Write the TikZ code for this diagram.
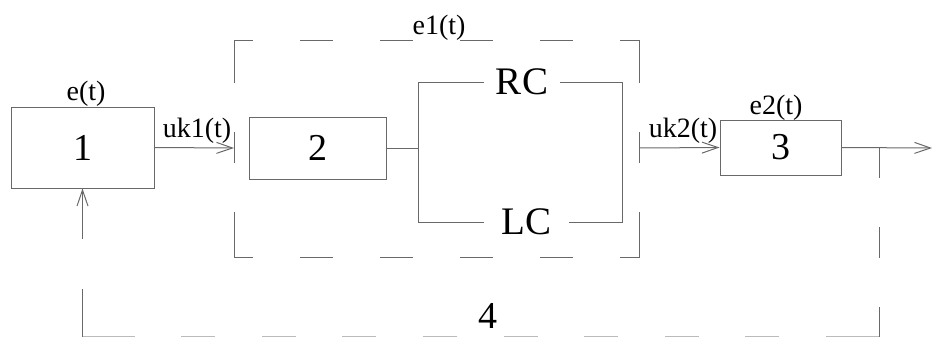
\documentclass[tikz,border=0pt]{standalone}
\usepackage{fontspec}
\setmainfont{Liberation Serif}
\usetikzlibrary{arrows.meta}
\definecolor{ln}{RGB}{105,105,105}
\tikzset{
  wire/.style={draw=ln, line width=0.5pt},
  arr/.style={wire, -{Straight Barb[length=8pt,width=5.5pt]}},
  blk/.style={draw=ln, line width=0.5pt, rectangle, inner sep=0pt, font=\fontsize{19}{19}\selectfont},
  lbl/.style={inner sep=0pt, font=\fontsize{14}{14}\selectfont},
  brn/.style={inner sep=0pt, font=\fontsize{19.5}{19.5}\selectfont},
  hside/.style={wire, dash pattern=on 9.5pt off 23.5pt on 16.5pt off 23.5pt on 16.5pt off 23.5pt on 16.5pt off 23.5pt on 16.5pt off 23.5pt on 20pt},
  vside/.style={wire, dash pattern=on 21.5pt off 24.5pt on 15.5pt off 24.5pt on 30pt},
}
\begin{document}
\begin{tikzpicture}[x=0.5pt, y=-0.5pt]
\useasboundingbox (0,0) rectangle (933,337);

% blocks
\node[blk, minimum width=71.5pt, minimum height=40.5pt] (b1) at (82.5,147.5) {1};
\node[blk, minimum width=68.5pt, minimum height=31pt] (b2) at (317.5,148) {2};
\node[blk, minimum width=60.5pt, minimum height=27.5pt] (b3) at (780.5,147.5) {3};

% labels
\node[lbl] (le) at (86,94) {e(t)};
\node[lbl] (luk1) at (197,131) {uk1(t)};
\node[lbl] (le1) at (439,28) {e1(t)};
\node[lbl] (luk2) at (683,131) {uk2(t)};
\node[lbl] (le2) at (776,108) {e2(t)};
\node[blk, draw=none] (l4) at (488,316) {4};

% branch texts
\node[brn, inner xsep=6pt] (rc) at (522,82) {RC};
\node[brn, inner xsep=8.5pt, anchor=west] (lc) at (484,222) {LC};

% dashed box e1
\coordinate (d1) at (234,40);
\coordinate (d2) at (639.5,40);
\coordinate (d3) at (639.5,257);
\coordinate (d4) at (234,257);
\draw[hside] (d1) -- (d2);
\draw[hside] (d4) -- (d3);
\draw[vside] (d1) -- (d4);
\draw[vside] (d2) -- (d3);

% coordinates
\coordinate (in1) at (234,148);
\coordinate (out1) at (639.5,148);
\coordinate (jl) at (418,148);
\coordinate (jlt) at (418,82);
\coordinate (jlb) at (418,222);
\coordinate (jrt) at (622,82);
\coordinate (jrb) at (622,222);
\coordinate (fin) at (932,148);
\coordinate (j) at (879,148);
\coordinate (c1) at (879,336.6);
\coordinate (c2) at (82.5,336.6);

% connectors
\draw[arr] (b1.east) -- (in1);
\draw[wire] (b2.east) -- (jl);
\draw[wire] (jlt) -- (jlb);
\draw[wire] (jlt) -- (rc.west);
\draw[wire] (jlb) -- (lc.west);
\draw[wire] (rc.east) -- (jrt) -- (jrb) -- (lc.east);
\draw[arr] (out1) -- (b3.west);
\draw[arr] (b3.east) -- (fin);

% feedback path 4
\draw[wire, dash pattern=on 15pt off 24.5pt on 15.5pt off 24.5pt on 20pt] (j) -- (c1);
\draw[wire, draw=ln!45, dash pattern=on 26.5pt off 23.3pt on 17pt off 23.3pt on 17pt off 23.3pt on 17pt off 23.3pt on 17pt off 23.3pt on 17pt off 23.3pt on 17pt off 23.3pt on 17pt off 23.3pt on 17pt off 23.3pt on 40pt] (c1) -- (c2);
\draw[arr, dash pattern=on 24pt off 25pt on 40pt] (c2) -- (b1.south);
\end{tikzpicture}
\end{document}
